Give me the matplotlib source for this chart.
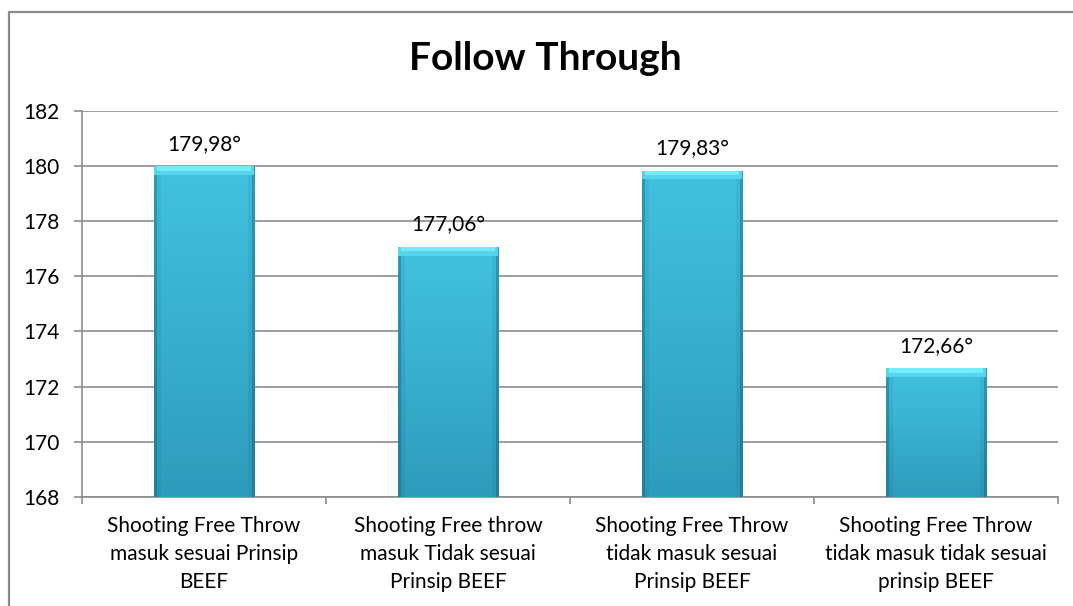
import numpy as np
import matplotlib.pyplot as plt
from matplotlib.patches import Rectangle
from matplotlib.colors import LinearSegmentedColormap

plt.rcParams['font.family'] = ['Lato', 'DejaVu Sans']

categories = [
    "Shooting Free Throw\nmasuk sesuai Prinsip\nBEEF",
    "Shooting Free throw\nmasuk Tidak sesuai\nPrinsip BEEF",
    "Shooting Free Throw\ntidak masuk sesuai\nPrinsip BEEF",
    "Shooting Free Throw\ntidak masuk tidak sesuai\nprinsip BEEF",
]
values = [179.98, 177.06, 179.83, 172.66]
y_ticks = [168, 170, 172, 174, 176, 178, 180, 182]

W, H = 1073, 606
fig = plt.figure(figsize=(W / 100, H / 100), dpi=100)
ax = fig.add_axes([82 / W, 1 - 497 / H, (1058 - 82) / W, (497 - 110.7) / H])

# outer chart frame (runs off the right and bottom edges)
fig.patches.append(Rectangle((9 / W, -0.05), 1.1, 1 - 12 / H + 0.05,
                             transform=fig.transFigure, fill=False,
                             edgecolor='#8c8c8c', linewidth=1.6, zorder=0))

x = np.arange(len(values))
ax.set_xlim(-0.5, len(values) - 0.5)
ax.set_ylim(168, 182)
ax.set_yticks(y_ticks)
ax.set_yticklabels([str(t) for t in y_ticks], fontsize=15)
ax.set_xticks(x)
ax.set_xticklabels(categories, fontsize=15, linespacing=1.5)
ax.set_xticks(np.arange(-0.5, len(values), 1), minor=True)
ax.tick_params(axis='x', which='major', length=0, pad=14)
ax.tick_params(axis='x', which='minor', length=5, color='#8c8c8c', width=1.2)
ax.tick_params(axis='y', length=6, color='#8c8c8c', width=1.2, pad=10)
ax.grid(axis='y', color='#8c8c8c', linewidth=1.2, zorder=0)
ax.set_axisbelow(True)
for side in ['top', 'right']:
    ax.spines[side].set_visible(False)
for side in ['left', 'bottom']:
    ax.spines[side].set_color('#8c8c8c')
    ax.spines[side].set_linewidth(1.2)

# bar shading: lighter at the top, slightly darker at the bottom and the side edges
cmap = LinearSegmentedColormap.from_list('bar', ['#22809c', '#2e9cbc', '#42c2df'])
gy = np.linspace(0, 1, 200)[:, None]
gx = np.linspace(-1, 1, 100)[None, :]
shade = 0.5 + 0.5 * gy - 0.45 * (np.abs(gx) > 0.94) - 0.12 * (np.abs(gx) > 0.86)
shade = np.clip(shade, 0, 1)

width = 0.41
bars = ax.bar(x, [v - 168 for v in values], width, bottom=168,
              color='#3bb8d8', edgecolor='none', zorder=2)
for b, v in zip(bars, values):
    x0 = b.get_x()
    im = ax.imshow(shade, cmap=cmap, origin='lower', aspect='auto',
                   extent=(x0, x0 + width, 168, v), zorder=3, vmin=0, vmax=1)
    im.set_clip_path(b)
    # bevelled cap
    ax.add_patch(Rectangle((x0, v - 0.32), width, 0.32, facecolor='#56d4ee',
                           edgecolor='none', zorder=4))
    ax.add_patch(Rectangle((x0 + 0.012, v - 0.16), width - 0.024, 0.16,
                           facecolor='#72ecfb', edgecolor='none', zorder=4))
    ax.text(b.get_x() + width / 2, v + 0.42, f"{v:.2f}".replace('.', ',') + "°",
            ha='center', va='bottom', fontsize=15, zorder=5)

ax.set_xlim(-0.5, len(values) - 0.5)
ax.set_ylim(168, 182)

fig.text(545 / W, 1 - 59 / H, "Follow Through", ha='center', va='center',
         fontsize=28, fontweight='bold')

fig.savefig('out.png', dpi=100)
